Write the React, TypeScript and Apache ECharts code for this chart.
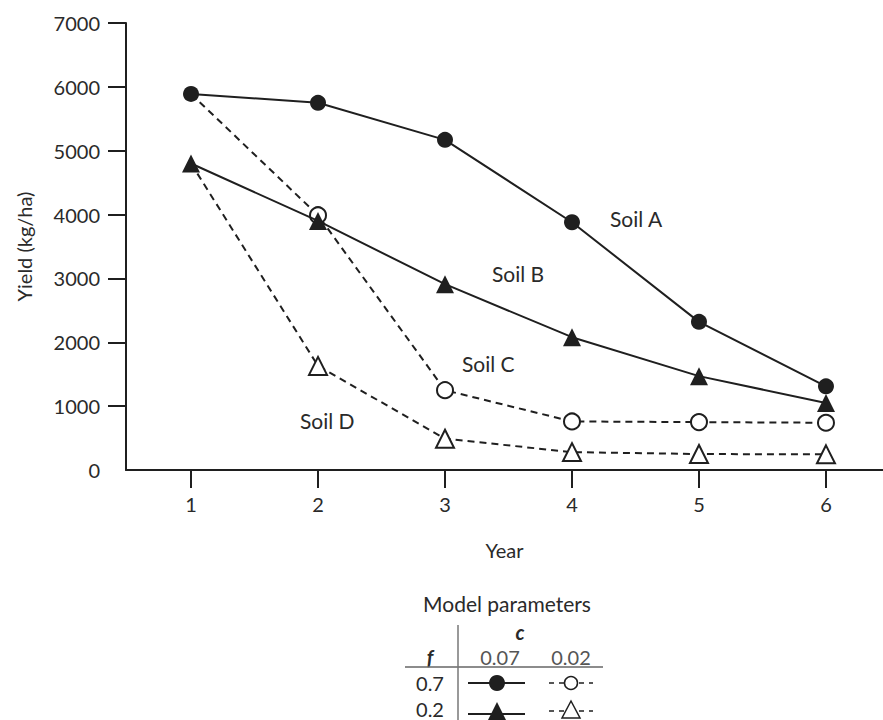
import React, { useEffect, useRef } from "react";
import * as echarts from "echarts";

const years = [1, 2, 3, 4, 5, 6];
const yTicks = [1000, 2000, 3000, 4000, 5000, 6000, 7000];
const soilA = [5890, 5750, 5170, 3880, 2320, 1310];
const soilB = [4800, 3900, 2910, 2080, 1470, 1050];
const soilC = [5890, 3990, 1250, 760, 750, 740];
const soilD = [4800, 1630, 490, 280, 250, 245];
const soilLabels = ["Soil A", "Soil B", "Soil C", "Soil D"];
const legendTitle = "Model parameters";
const cValues = ["0.07", "0.02"];
const fValues = ["0.7", "0.2"];

const INK = "#1f1f1f";
const FONT = "Lato";

function pts(vals: number[], hideFirst = false) {
  return years.map((x, i) =>
    hideFirst && i === 0 ? { value: [x, vals[i]], symbol: "none" } : { value: [x, vals[i]] }
  );
}

export default function App() {
  const ref = useRef<HTMLDivElement>(null);
  useEffect(() => {
    document.body.style.margin = "0";
    const chart = echarts.init(ref.current!, null, { renderer: "svg" });
    const txt = (text: string, x: number, y: number, size = 21, align = "left", extra: any = {}) => ({
      type: "text",
      x,
      y,
      style: {
        text,
        fontSize: size,
        fontFamily: FONT,
        fill: "#2a2a2a",
        align,
        verticalAlign: "middle",
        ...extra,
      },
    });
    chart.setOption({
      animation: false,
      backgroundColor: "#ffffff",
      grid: { left: 126, right: 0, top: 23, bottom: 250 },
      xAxis: {
        type: "value",
        min: 0.488,
        max: 6.449,
        name: "Year",
        nameLocation: "middle",
        nameGap: 70,
        nameTextStyle: { fontSize: 20, fontFamily: FONT, color: "#2a2a2a" },
        axisLine: { show: true, lineStyle: { color: INK, width: 2 } },
        axisTick: { show: true, length: 18, customValues: years, lineStyle: { color: INK, width: 2 } },
        axisLabel: { customValues: years, margin: 24, fontSize: 20, fontFamily: FONT, color: "#2a2a2a" },
        splitLine: { show: false },
      },
      yAxis: {
        type: "value",
        min: 0,
        max: 7000,
        interval: 1000,
        name: "Yield (kg/ha)",
        nameLocation: "middle",
        nameGap: 92,
        nameTextStyle: { fontSize: 20, fontFamily: FONT, color: "#2a2a2a" },
        axisLine: { show: true, lineStyle: { color: INK, width: 2 } },
        axisTick: { show: true, length: 18, customValues: yTicks, lineStyle: { color: INK, width: 2 } },
        axisLabel: {
          margin: 26,
          fontSize: 20,
          fontFamily: FONT,
          color: "#2a2a2a",
          formatter: (v: number) => String(v),
        },
        splitLine: { show: false },
      },
      series: [
        {
          name: "Soil C",
          type: "line",
          data: pts(soilC, true),
          symbol: "emptyCircle",
          symbolSize: 16,
          lineStyle: { color: INK, width: 2, type: [7, 5] },
          itemStyle: { color: INK, borderWidth: 1.5 },
          z: 2,
        },
        {
          name: "Soil D",
          type: "line",
          data: pts(soilD, true),
          symbol: "emptyTriangle",
          symbolSize: 18,
          lineStyle: { color: INK, width: 2, type: [7, 5] },
          itemStyle: { color: INK, borderWidth: 1.5 },
          z: 2,
        },
        {
          name: "Soil A",
          type: "line",
          data: pts(soilA),
          symbol: "circle",
          symbolSize: 16,
          lineStyle: { color: INK, width: 2 },
          itemStyle: { color: INK },
          z: 3,
        },
        {
          name: "Soil B",
          type: "line",
          data: pts(soilB),
          symbol: "triangle",
          symbolSize: 18,
          lineStyle: { color: INK, width: 2 },
          itemStyle: { color: INK },
          z: 3,
        },
      ],
      graphic: [
        txt(soilLabels[0], 610, 218),
        txt(soilLabels[1], 492, 273),
        txt(soilLabels[2], 462, 363),
        txt(soilLabels[3], 300, 420),
        txt(legendTitle, 507, 603, 21, "center"),
        txt("c", 520, 632, 20, "center", { fontWeight: "bold", fontStyle: "italic" }),
        txt("f", 430, 657, 20, "center", { fontWeight: "bold", fontStyle: "italic" }),
        txt(cValues[0], 500, 657, 20, "center", { fill: "#555" }),
        txt(cValues[1], 571, 657, 20, "center", { fill: "#555" }),
        txt(fValues[0], 430, 683, 20, "center"),
        txt(fValues[1], 430, 709, 20, "center"),
        { type: "line", shape: { x1: 405, y1: 667, x2: 603, y2: 667 }, style: { stroke: "#666", lineWidth: 1.5 } },
        { type: "line", shape: { x1: 458, y1: 625, x2: 458, y2: 720 }, style: { stroke: "#777", lineWidth: 1.5 } },
        { type: "line", shape: { x1: 468, y1: 683, x2: 525, y2: 683 }, style: { stroke: INK, lineWidth: 2 } },
        { type: "circle", shape: { cx: 497, cy: 683, r: 8 }, style: { fill: INK } },
        { type: "line", shape: { x1: 549, y1: 683, x2: 593, y2: 683 }, style: { stroke: INK, lineWidth: 1.5, lineDash: [5, 5] } },
        { type: "circle", shape: { cx: 571, cy: 683, r: 6.5 }, style: { fill: "#fff", stroke: INK, lineWidth: 1.5 } },
        { type: "line", shape: { x1: 468, y1: 714, x2: 525, y2: 714 }, style: { stroke: INK, lineWidth: 2 } },
        { type: "polygon", shape: { points: [[497, 702], [506, 720], [488, 720]] }, style: { fill: INK } },
        { type: "line", shape: { x1: 549, y1: 711, x2: 593, y2: 711 }, style: { stroke: INK, lineWidth: 1.5, lineDash: [5, 5] } },
        { type: "polygon", shape: { points: [[571, 701], [580, 718], [562, 718]] }, style: { fill: "#fff", stroke: INK, lineWidth: 1.5 } },
      ],
    });
    return () => chart.dispose();
  }, []);
  return <div ref={ref} style={{ position: "fixed", left: 0, top: 0, width: 883, height: 720 }} />;
}
